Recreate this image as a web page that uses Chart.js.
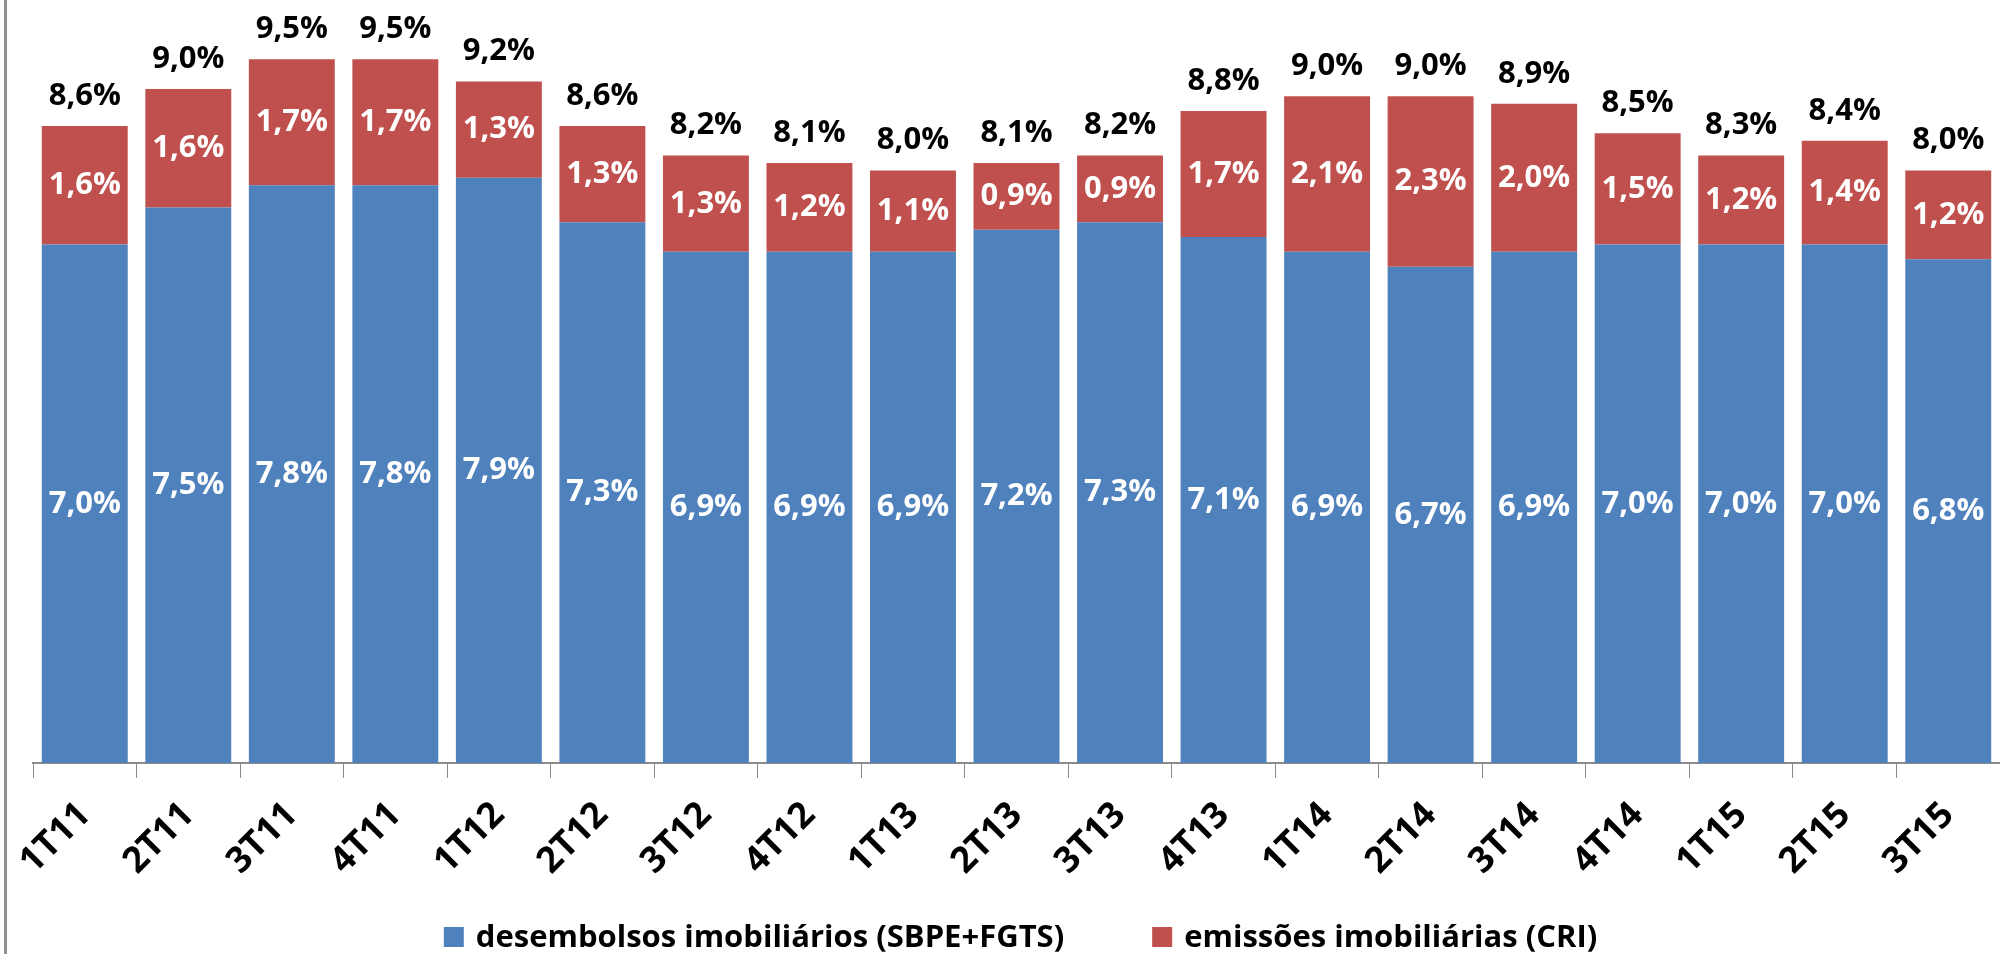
<!DOCTYPE html>
<html>
<head>
<meta charset="utf-8">
<script src="https://cdn.jsdelivr.net/npm/chart.js@4.4.1/dist/chart.umd.min.js"></script>
<style>
  html, body { margin: 0; padding: 0; background: #fff; overflow: hidden; }
  #wrap { position: relative; width: 2000px; height: 954px; }
</style>
</head>
<body>
<div id="wrap"><canvas id="c" width="2000" height="954"></canvas></div>
<script>
// Quarterly real-estate credit as % of GDP
const quarters = ['1T11','2T11','3T11','4T11','1T12','2T12','3T12','4T12','1T13','2T13','3T13','4T13','1T14','2T14','3T14','4T14','1T15','2T15','3T15'];
const desembolsos = [7.0, 7.5, 7.8, 7.8, 7.9, 7.3, 6.9, 6.9, 6.9, 7.2, 7.3, 7.1, 6.9, 6.7, 6.9, 7.0, 7.0, 7.0, 6.8];
const emissoes    = [1.6, 1.6, 1.7, 1.7, 1.3, 1.3, 1.3, 1.2, 1.1, 0.9, 0.9, 1.7, 2.1, 2.3, 2.0, 1.5, 1.2, 1.4, 1.2];
const totais      = [8.6, 9.0, 9.5, 9.5, 9.2, 8.6, 8.2, 8.1, 8.0, 8.1, 8.2, 8.8, 9.0, 9.0, 8.9, 8.5, 8.3, 8.4, 8.0];
const seriesNames = ['desembolsos imobiliários (SBPE+FGTS)', 'emissões imobiliárias (CRI)'];
const seriesColors = ['#4F81BD', '#C0504D'];

const FONT = "'Open Sans', 'Liberation Sans', sans-serif";
const pct = v => v.toFixed(1).replace('.', ',') + '%';

// Values inside each segment plus the total above each stack
const valueLabels = {
  id: 'valueLabels',
  afterDatasetsDraw(chart) {
    const ctx = chart.ctx;
    ctx.save();
    ctx.textAlign = 'center';
    ctx.textBaseline = 'middle';
    ctx.font = `bold 31px ${FONT}`;
    chart.data.datasets.forEach((ds, di) => {
      const meta = chart.getDatasetMeta(di);
      meta.data.forEach((bar, i) => {
        ctx.fillStyle = '#ffffff';
        ctx.fillText(pct(ds.data[i]), bar.x, (bar.y + bar.base) / 2);
      });
    });
    const topMeta = chart.getDatasetMeta(chart.data.datasets.length - 1);
    ctx.fillStyle = '#000000';
    topMeta.data.forEach((bar, i) => {
      ctx.fillText(pct(totais[i]), bar.x, bar.y - 30);
    });
    ctx.restore();
  }
};

// Frame edge on the left and the legend row at the bottom
const frameAndLegend = {
  id: 'frameAndLegend',
  beforeDraw(chart) {
    const ctx = chart.ctx;
    ctx.save();
    ctx.fillStyle = '#ffffff';
    ctx.fillRect(0, 0, chart.width, chart.height);
    ctx.fillStyle = '#8f8f8f';
    ctx.fillRect(4, 0, 3, chart.height);
    ctx.restore();
  },
  afterDraw(chart) {
    const ctx = chart.ctx;
    ctx.save();
    ctx.font = `bold 31px ${FONT}`;
    ctx.textBaseline = 'middle';
    ctx.textAlign = 'left';
    const box = 20, gap = 12, spacing = 88;
    const widths = seriesNames.map(t => ctx.measureText(t).width);
    const total = widths.reduce((a, w) => a + box + gap + w, 0) + spacing * (seriesNames.length - 1);
    let x = (chart.chartArea.left + chart.chartArea.right) / 2 + 4 - total / 2;
    const cy = 937;
    seriesNames.forEach((t, i) => {
      ctx.fillStyle = seriesColors[i];
      ctx.fillRect(x, cy - box / 2, box, box);
      ctx.fillStyle = '#000000';
      ctx.fillText(t, x + box + gap, cy + 1);
      x += box + gap + widths[i] + spacing;
    });
    ctx.restore();
  }
};

new Chart(document.getElementById('c'), {
  type: 'bar',
  data: {
    labels: quarters,
    datasets: [
      { label: seriesNames[0], data: desembolsos, backgroundColor: seriesColors[0], categoryPercentage: 1.0, barPercentage: 0.83 },
      { label: seriesNames[1], data: emissoes, backgroundColor: seriesColors[1], categoryPercentage: 1.0, barPercentage: 0.83 }
    ]
  },
  options: {
    responsive: false,
    animation: false,
    layout: { padding: { left: 33, right: 0, top: 0, bottom: 60 } },
    plugins: { legend: { display: false }, tooltip: { enabled: false } },
    scales: {
      x: {
        stacked: true,
        offset: true,
        grid: { offset: true, drawOnChartArea: false, tickLength: 15, color: '#8a8a8a', lineWidth: 1 },
        border: { color: '#8a8a8a', width: 2 },
        ticks: {
          autoSkip: false, minRotation: 45, maxRotation: 45, padding: 16,
          color: '#000000', font: { family: FONT, weight: 'bold', size: 36 }
        },
        afterFit(scale) {
          scale.height = 131;
          scale.paddingLeft = 0;
          scale.paddingRight = 0;
        }
      },
      y: { stacked: true, display: false, min: 0, max: 10.3 }
    }
  },
  plugins: [valueLabels, frameAndLegend]
});
</script>
</body>
</html>
